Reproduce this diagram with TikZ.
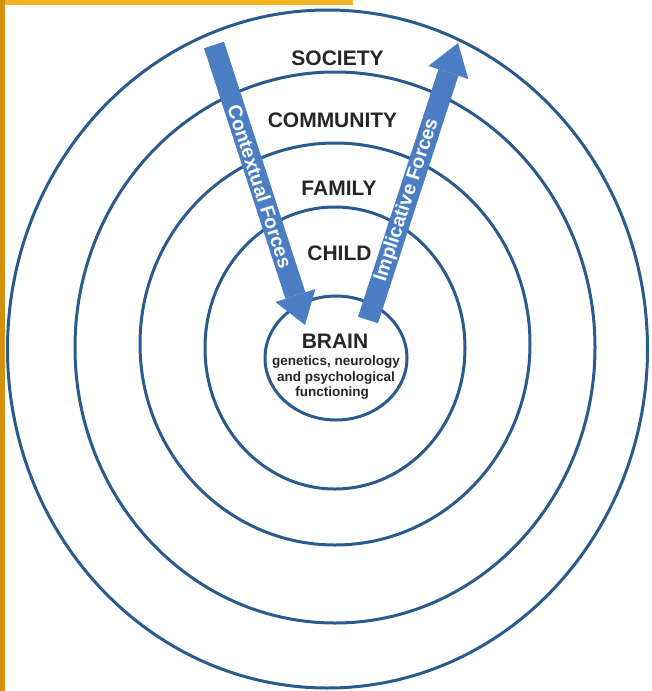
\documentclass[tikz,border=0pt]{standalone}
\usepackage{fontspec}
\setmainfont{Liberation Sans}
\usetikzlibrary{arrows.meta}
\definecolor{ringblue}{HTML}{2B5A8C}
\definecolor{arrowblue}{HTML}{4A7DC2}
\definecolor{topgold}{HTML}{F6B324}
\definecolor{sidegold}{HTML}{D4900C}
\definecolor{labelgray}{HTML}{262626}
\begin{document}
\begin{tikzpicture}[x=1pt,y=-1pt,
  ring/.style={draw=ringblue, line width=3pt},
  ringlabel/.style={anchor=base, inner sep=0pt, text=labelgray, font=\fontsize{21}{24}\selectfont\bfseries},
  brainnote/.style={anchor=base, inner sep=0pt, text=labelgray, font=\fontsize{13.5}{15}\selectfont\bfseries},
  forcearrow/.style={draw=arrowblue, line width=21pt, -{Triangle[length=31pt,width=42pt,line width=0pt]}},
  forcetext/.style={sloped, inner sep=0pt, text=white, font=\fontsize{19.5}{21}\selectfont\bfseries}]
\useasboundingbox (0,0) rectangle (652,691);
\clip (0,0) rectangle (652,691);
\fill[white] (0,0) rectangle (652,691);
% frame bars
\fill[topgold] (0,0) rectangle (353,5);
\fill[sidegold] (0,0) rectangle (5,691);
% rings
\draw[ring] (327.5,349) ellipse [x radius=320, y radius=339];
\draw[ring] (335,347.5) ellipse [x radius=260, y radius=275.5];
\draw[ring] (335,344) ellipse [x radius=195, y radius=201];
\draw[ring] (335,348) ellipse [x radius=130, y radius=141];
\draw[ring] (336,358) ellipse [x radius=71, y radius=62];
% arrows
\coordinate (ctxTop) at (214,45);
\coordinate (ctxTip) at (305,325);
\coordinate (impBase) at (368,320);
\coordinate (impTip) at (458,43);
\draw[forcearrow] (ctxTop) -- (ctxTip) node[forcetext, pos=0.505] (ctxLabel) {Contextual Forces};
\draw[forcearrow] (impBase) -- (impTip) node[forcetext, pos=0.433] (impLabel) {Implicative Forces};
% labels
\node[ringlabel] (society) at (337.5,65) {SOCIETY};
\node[ringlabel] (community) at (332.5,127) {COMMUNITY};
\node[ringlabel] (family) at (339,195.5) {FAMILY};
\node[ringlabel] (child) at (339.5,260) {CHILD};
\node[ringlabel] (brain) at (335,348) {BRAIN};
\node[brainnote] (brainA) at (336,365) {genetics, neurology};
\node[brainnote] (brainB) at (336,381) {and psychological};
\node[brainnote] (brainC) at (332,396) {functioning};
\end{tikzpicture}
\end{document}
